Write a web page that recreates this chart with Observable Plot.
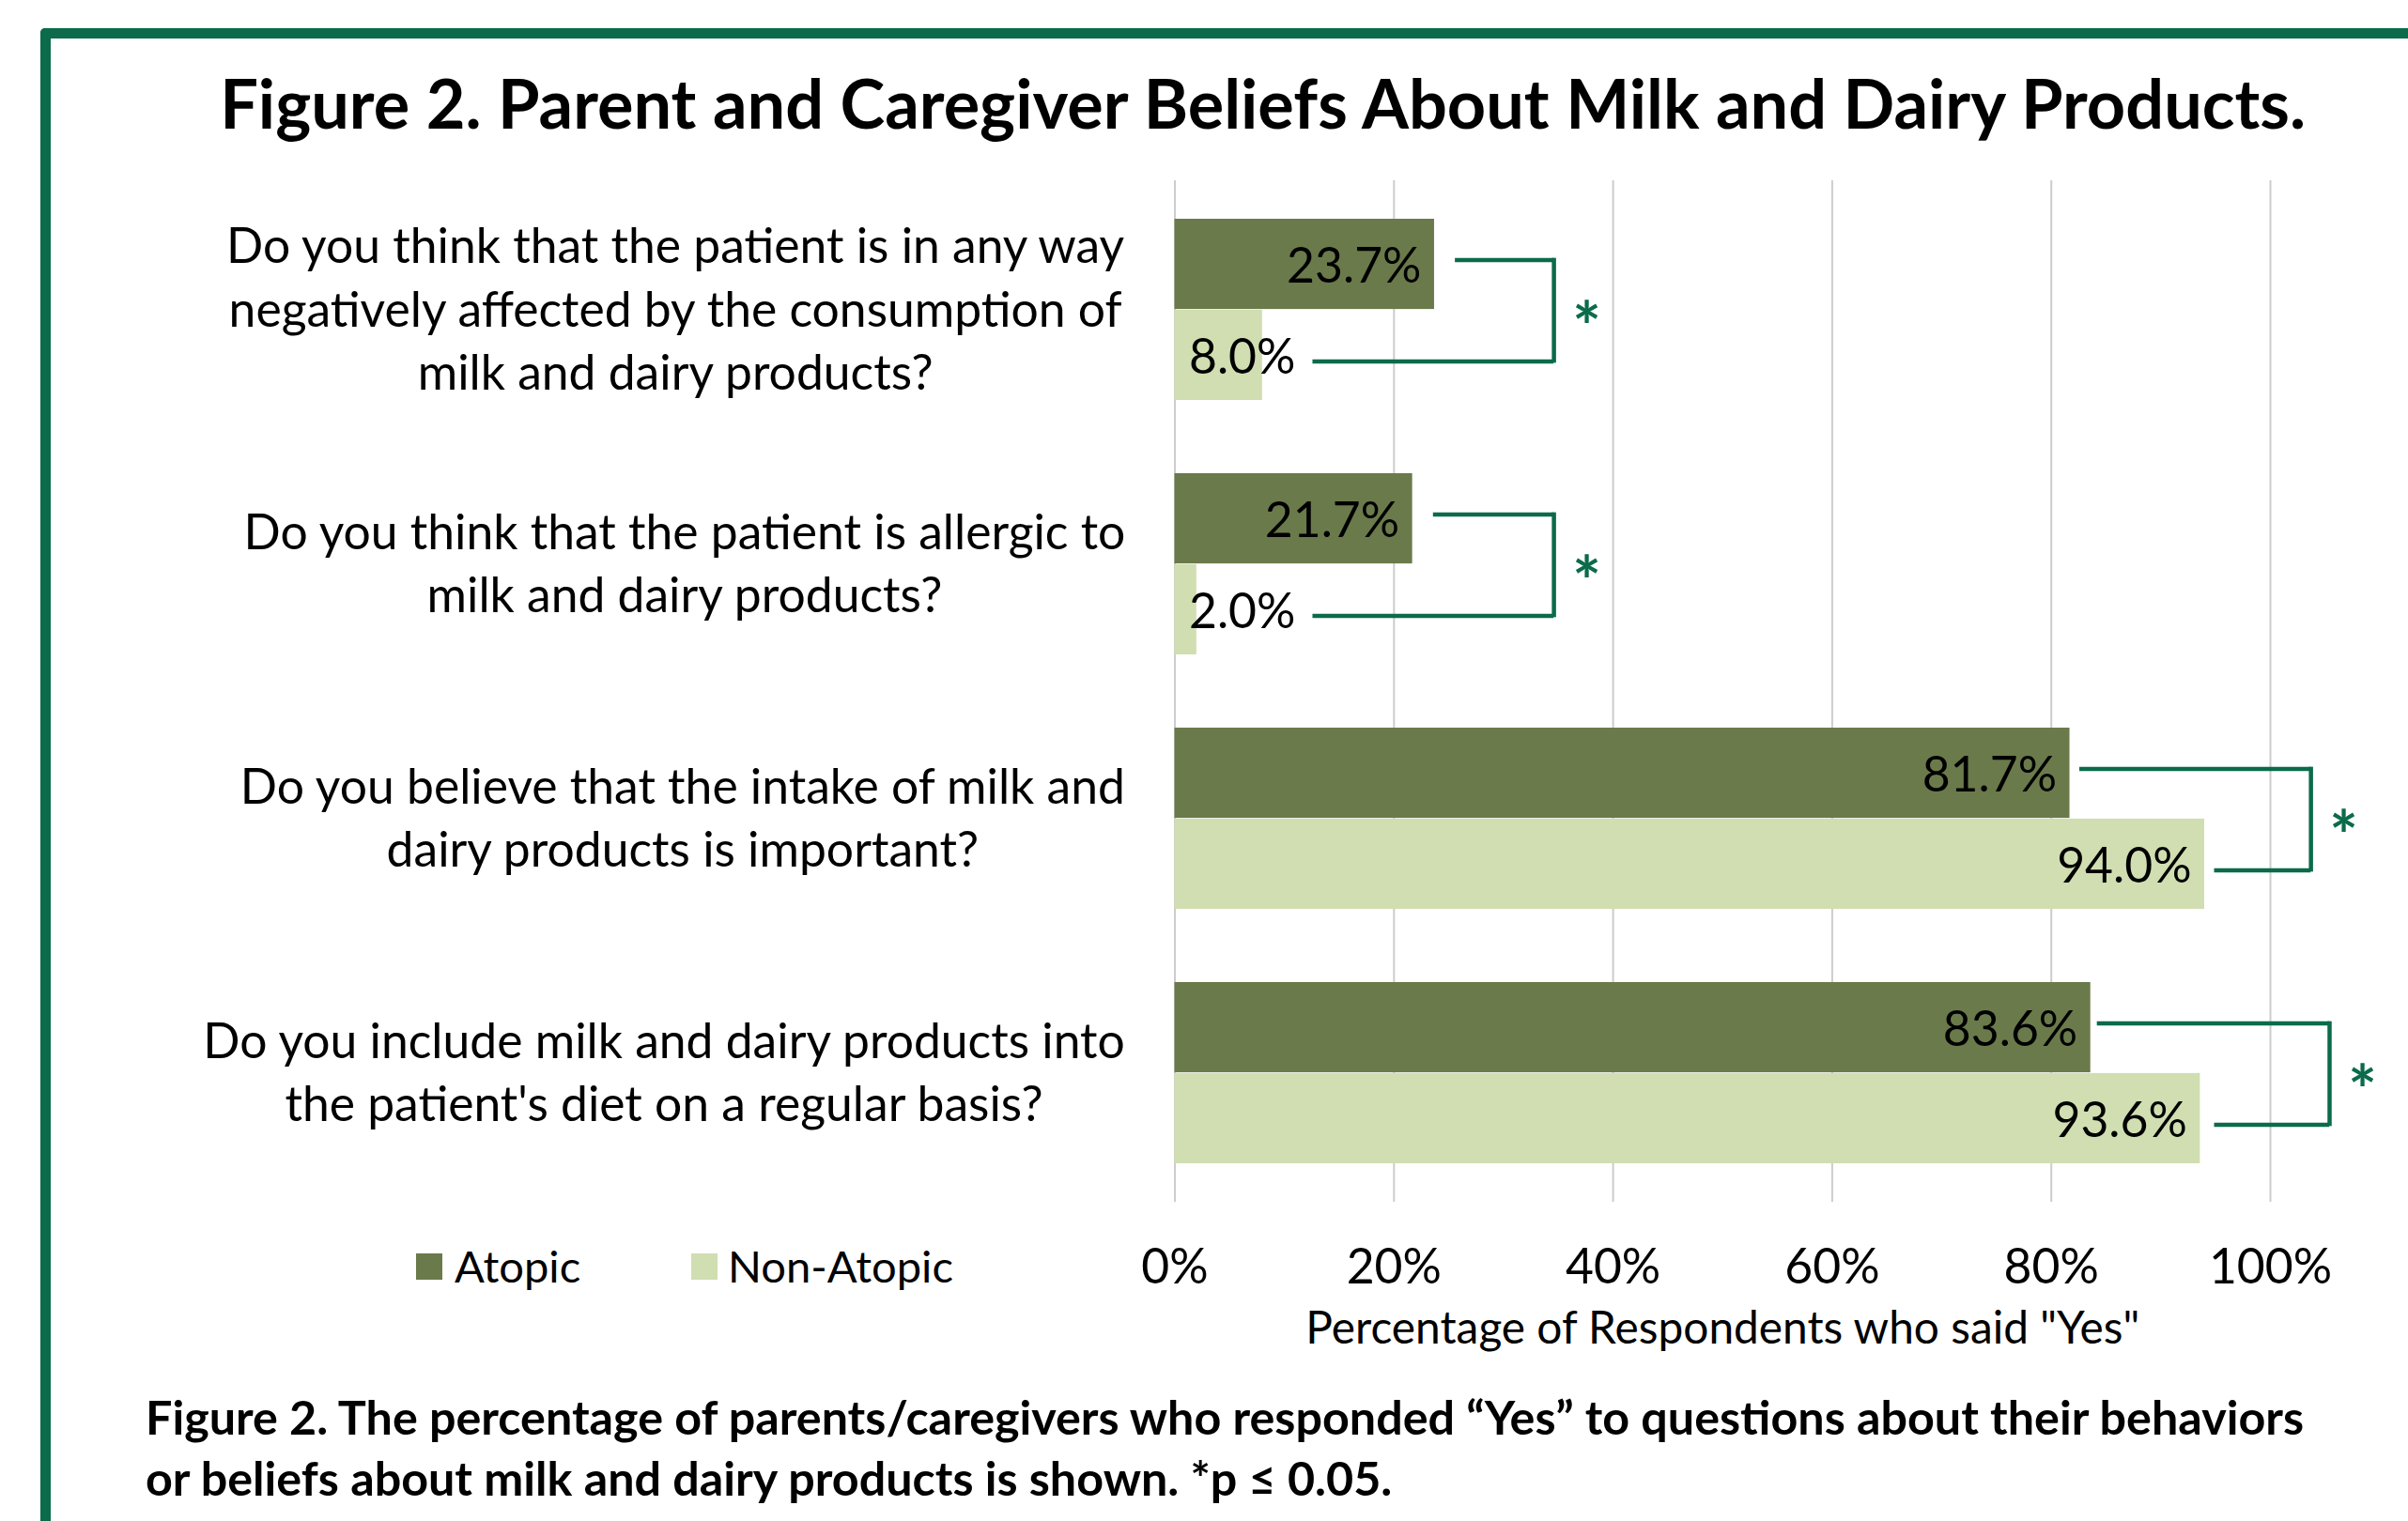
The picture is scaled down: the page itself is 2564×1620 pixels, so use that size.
<!DOCTYPE html>
<html><head><meta charset="utf-8">
<script src="https://cdn.jsdelivr.net/npm/d3@7"></script>
<script src="https://cdn.jsdelivr.net/npm/@observablehq/plot@0.6"></script>
<style>
html,body{margin:0;padding:0;background:#fff;width:2564px;height:1620px;overflow:hidden;}
#frame{position:absolute;left:43px;top:30px;width:3000px;height:3000px;border-left:11px solid #0B6B4B;border-top:11px solid #0B6B4B;border-top-left-radius:5px;box-sizing:border-box;}
.t{position:absolute;white-space:nowrap;color:#000;font-family:Lato, sans-serif;}
#chart{position:absolute;left:0;top:160px;}
.sw{position:absolute;}
</style></head><body>
<div id="frame"></div>
<div id="title" class="t"></div>
<div id="chart"></div>
<div id="legend"></div>
<div id="cap1" class="t"></div><div id="cap2" class="t"></div>
<script>
// ---------- data ----------
const questions = [
  "Do you think that the patient is in any way\nnegatively affected by the consumption of\nmilk and dairy products?",
  "Do you think that the patient is allergic to\nmilk and dairy products?",
  "Do you believe that the intake of milk and\ndairy products is important?",
  "Do you include milk and dairy products into\nthe patient's diet on a regular basis?"
];
const groups = ["Atopic", "Non-Atopic"];
const atopic = [23.7, 21.7, 81.7, 83.6];
const nonAtopic = [8.0, 2.0, 94.0, 93.6];
const xTicks = [0, 20, 40, 60, 80, 100];
const bracketAt = [34.6, 34.6, 103.7, 105.4];
const bracketTopFrom = [25.6, 23.6, 82.6, 84.2];
const bracketBottomFrom = [12.6, 12.6, 94.9, 94.9];
const significance = ["*", "*", "*", "*"];
const titleText = "Figure 2. Parent and Caregiver Beliefs About Milk and Dairy Products.";
const axisLabel = 'Percentage of Respondents who said "Yes"';
const captionLines = [
  "Figure 2. The percentage of parents/caregivers who responded \u201CYes\u201D to questions about their behaviors",
  "or beliefs about milk and dairy products is shown. *p \u2264 0.05."
];

// ---------- style ----------
const colors = {"Atopic": "#6A7A4A", "Non-Atopic": "#D0DEB1"};
const GREEN = "#0B6B4B";
const FONT = "Lato";

const ctx = document.createElement("canvas").getContext("2d");
function measure(text, size, weight) { ctx.font = `${weight} ${size}px ${FONT}`; return ctx.measureText(text); }
function fit(text, weight, target) { return 100 * target / measure(text, 100, weight).width; }

const bodySize = fit(questions[0].split("\n")[0], 400, 960);
const titleSize = fit(titleText, 700, 2227);
const capSize = fit(captionLines[0], 700, 2303);
const axisLabelSize = Math.min(bodySize, fit(axisLabel, 400, 890));
const legendSize = Math.min(bodySize, fit("Non-Atopic", 400, 240));

function place(el, text, size, weight, baseline, left, center) {
  const m = measure(text, size, weight);
  const asc = m.fontBoundingBoxAscent, desc = m.fontBoundingBoxDescent;
  el.textContent = text;
  el.style.fontSize = size + "px";
  el.style.fontWeight = weight;
  el.style.lineHeight = (asc + desc) + "px";
  el.style.top = (baseline - asc) + "px";
  el.style.left = (center != null ? center - m.width / 2 : left) + "px";
}

place(document.getElementById("title"), titleText, titleSize, 700, 137, null, 1347.5);
place(document.getElementById("cap1"), captionLines[0], capSize, 700, 1528, 155, null);
place(document.getElementById("cap2"), captionLines[1], capSize, 700, 1593, 155, null);

// legend
const legend = document.getElementById("legend");
const legendPos = [{sx: 443, tx: 484}, {sx: 736, tx: 775}];
groups.forEach((g, i) => {
  const sw = document.createElement("div");
  sw.className = "sw";
  Object.assign(sw.style, {left: legendPos[i].sx + "px", top: "1335px", width: "28px", height: "28px", background: colors[g]});
  legend.appendChild(sw);
  const t = document.createElement("div");
  t.className = "t";
  legend.appendChild(t);
  place(t, g, legendSize, 400, 1366, legendPos[i].tx, null);
});

// ---------- chart ----------
const W = 2564, H = 1290, mT = 32, mB = 170, mL = 1250.5, mR = 147;
const pI = 0.287, pO = 0.145;
const step = (H - mT - mB) / (questions.length - pI + 2 * pO);
const half = step * (1 - pI) / 2;

const rows = questions.flatMap((q, i) => [
  {q, group: "Atopic", value: atopic[i]},
  {q, group: "Non-Atopic", value: nonAtopic[i]}
]);
const brackets = questions.map((q, i) => ({q, at: bracketAt[i], top: bracketTopFrom[i], bottom: bracketBottomFrom[i], mark: significance[i]}));

const fmt = d => d.value.toFixed(1) + "%";
const valueMarks = groups.flatMap((g, gi) => {
  const dy = (gi === 0 ? -1 : 1) * half / 2 + 3;
  const data = rows.filter(d => d.group === g);
  return [
    Plot.text(data.filter(d => d.value >= 15), {x: "value", y: "q", text: fmt, textAnchor: "end", dx: -14, dy, fontSize: bodySize, fill: "#000"}),
    Plot.text(data.filter(d => d.value < 15), {y: "q", text: fmt, frameAnchor: "left", textAnchor: "start", dx: 15, dy, fontSize: bodySize, fill: "#000"})
  ];
});

const labelGap = 52;
const questionMarks = questions.map(q => {
  const lines = q.split("\n");
  const maxW = Math.max(...lines.map(l => measure(l, bodySize, 400).width));
  return Plot.text([q], {y: d => d, text: d => d, frameAnchor: "left", textAnchor: "middle",
    dx: -(labelGap + maxW / 2), dy: -4, lineHeight: 67.5 / bodySize, fontSize: bodySize, fill: "#000"});
});

const topOff = 53, botOff = 55, sw = 4.5;
const chart = Plot.plot({
  width: W, height: H,
  marginTop: mT, marginBottom: mB, marginLeft: mL, marginRight: mR,
  style: {fontFamily: FONT, color: "#000", background: "transparent", overflow: "visible"},
  x: {domain: [0, 100], ticks: xTicks, tickFormat: d => d + "%"},
  y: {domain: questions, paddingInner: pI, paddingOuter: pO, axis: null},
  marks: [
    Plot.gridX(xTicks, {stroke: "#cccccc", strokeWidth: 2, strokeOpacity: 1}),
    Plot.barX(rows.filter(d => d.group === "Atopic"), {x: "value", y: "q", fill: colors["Atopic"], insetBottom: half}),
    Plot.barX(rows.filter(d => d.group === "Non-Atopic"), {x: "value", y: "q", fill: colors["Non-Atopic"], insetTop: half}),
    ...valueMarks,
    ...questionMarks,
    Plot.axisX(xTicks, {tickSize: 0, tickPadding: 50, fontSize: bodySize, tickFormat: d => d + "%", label: null, fill: "#000"}),
    Plot.text([axisLabel], {text: d => d, frameAnchor: "bottom", lineAnchor: "middle", dy: 135, fontSize: axisLabelSize, fill: "#000"}),
    Plot.ruleY(brackets, {y: "q", x1: "top", x2: "at", dy: -topOff, stroke: GREEN, strokeWidth: sw}),
    Plot.ruleY(brackets, {y: "q", x1: "bottom", x2: "at", dy: botOff, stroke: GREEN, strokeWidth: sw}),
    Plot.tickX(brackets, {x: "at", y: "q", insetTop: half - topOff - sw / 2, insetBottom: half - botOff - sw / 2, stroke: GREEN, strokeWidth: sw}),
    Plot.text(brackets, {x: "at", y: "q", text: "mark", dx: 35, dy: 22, fill: GREEN, fontSize: 72, fontWeight: "bold"})
  ]
});
document.getElementById("chart").appendChild(chart);
</script></body></html>
